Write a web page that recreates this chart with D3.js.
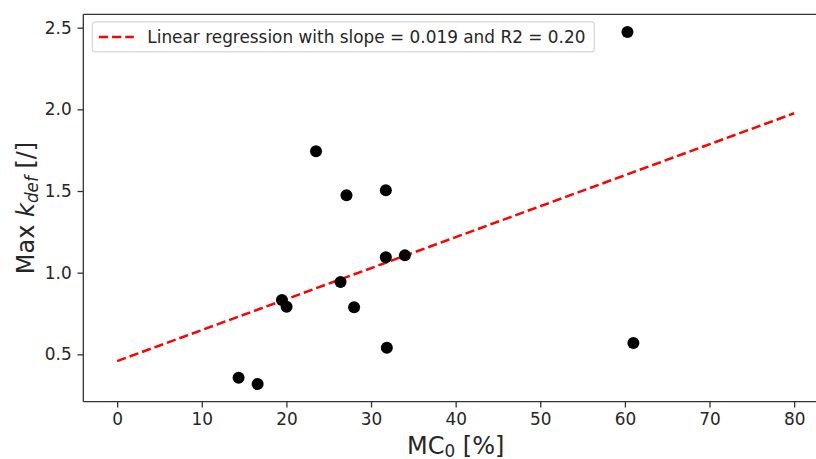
<!DOCTYPE html>
<html>
<head>
<meta charset="utf-8">
<script src="https://cdn.jsdelivr.net/npm/d3@7"></script>
<style>
  html, body { margin: 0; padding: 0; background: #fff; }
  svg { display: block; font-family: "DejaVu Sans", sans-serif; }
</style>
</head>
<body>
<svg id="chart" width="816" height="459"></svg>
<script>
const width = 816;
const height = 459;

// Initial moisture content MC0 [%] and max kdef [/]
const mc0 = [60.3, 23.5, 27.1, 31.75, 31.75, 34.0, 26.4, 19.47, 20.02, 28.0, 31.87, 61.0, 14.35, 16.6];
const kdef = [2.474, 1.743, 1.474, 1.504, 1.094, 1.106, 0.943, 0.833, 0.792, 0.788, 0.541, 0.569, 0.357, 0.318];

// Fitted regression line
const fitX = [0, 80];
const fitIntercept = 0.459;
const fitSlope = 0.01896;
const legendLabel = "Linear regression with slope = 0.019 and R2 = 0.20";

const xTicks = [0, 10, 20, 30, 40, 50, 60, 70, 80];
const yTicks = [0.5, 1.0, 1.5, 2.0, 2.5];

const margin = { top: 14.3, right: -12, bottom: 57.3, left: 83.3 };
const innerW = width - margin.left - margin.right;
const innerH = height - margin.top - margin.bottom;

const tickFont = 16.9;
const labelFont = 24;
const spineColor = "#333";

const points = mc0.map((x, i) => ({ x: x, y: kdef[i] }));
const line = fitX.map((x) => ({ x: x, y: fitIntercept + fitSlope * x }));

// matplotlib-style 5% padding
function padded(vals) {
  const [lo, hi] = d3.extent(vals);
  const p = (hi - lo) * 0.05;
  return [lo - p, hi + p];
}

const xScale = d3.scaleLinear()
  .domain(padded(mc0.concat(fitX)))
  .range([0, innerW]);

const yScale = d3.scaleLinear()
  .domain(padded(kdef))
  .range([innerH, 0]);

const svg = d3.select("#chart");
const g = svg.append("g").attr("transform", `translate(${margin.left},${margin.top})`);

// Axes
const xAxis = d3.axisBottom(xScale).tickValues(xTicks).tickFormat(d3.format("d")).tickSize(5.8).tickPadding(5.8);
const yAxis = d3.axisLeft(yScale).tickValues(yTicks).tickFormat(d3.format(".1f")).tickSize(5.8).tickPadding(5.8);

const gx = g.append("g").attr("transform", `translate(0,${innerH})`).call(xAxis);
const gy = g.append("g").call(yAxis);

[gx, gy].forEach((a) => {
  a.select(".domain").remove();
  a.selectAll("text").attr("font-size", tickFont).attr("fill", "#262626").attr("font-family", "DejaVu Sans");
  a.selectAll(".tick line").attr("stroke", spineColor).attr("stroke-width", 1.3);
});

// spines (right one falls outside the picture)
const spines = [
  [0, 0, innerW, 0],
  [0, innerH, innerW, innerH],
  [0, 0, 0, innerH],
  [innerW, 0, innerW, innerH]
];
g.selectAll("line.spine")
  .data(spines)
  .enter()
  .append("line")
  .attr("class", "spine")
  .attr("x1", (d) => d[0]).attr("y1", (d) => d[1])
  .attr("x2", (d) => d[2]).attr("y2", (d) => d[3])
  .attr("stroke", spineColor)
  .attr("stroke-width", 1.3);

// Regression line
g.append("path")
  .datum(line)
  .attr("fill", "none")
  .attr("stroke", "red")
  .attr("stroke-width", 2.5)
  .attr("stroke-dasharray", "9.25,4")
  .attr("d", d3.line().x((d) => xScale(d.x)).y((d) => yScale(d.y)));

// Points
g.selectAll("circle.pt")
  .data(points)
  .enter()
  .append("circle")
  .attr("class", "pt")
  .attr("cx", (d) => xScale(d.x))
  .attr("cy", (d) => yScale(d.y))
  .attr("r", 6)
  .attr("fill", "black");

// Legend
const legend = g.append("g").attr("transform", "translate(9,7.6)");
legend.append("rect")
  .attr("width", 502)
  .attr("height", 30)
  .attr("rx", 3)
  .attr("fill", "white")
  .attr("fill-opacity", 0.8)
  .attr("stroke", "#d6d6d6")
  .attr("stroke-width", 1.2);
legend.append("line")
  .attr("x1", 6.5).attr("x2", 41.5)
  .attr("y1", 15).attr("y2", 15)
  .attr("stroke", "red")
  .attr("stroke-width", 2.5)
  .attr("stroke-dasharray", "9.25,4");
legend.append("text")
  .attr("x", 55)
  .attr("y", 21)
  .attr("font-size", tickFont)
  .attr("fill", "#262626")
  .text(legendLabel);

// Axis labels
const xl = svg.append("text")
  .attr("x", margin.left + (xScale(0) + xScale(80)) / 2)
  .attr("y", 453.5)
  .attr("text-anchor", "middle")
  .attr("font-size", labelFont)
  .attr("fill", "#262626");
xl.append("tspan").text("MC");
xl.append("tspan").attr("font-size", labelFont * 0.7).attr("dy", 3).text("0");
xl.append("tspan").attr("dy", -3).text(" [%]");

const yl = svg.append("text")
  .attr("transform", `translate(34,${margin.top + innerH / 2}) rotate(-90)`)
  .attr("text-anchor", "middle")
  .attr("font-size", labelFont)
  .attr("fill", "#262626");
yl.append("tspan").text("Max ");
yl.append("tspan").attr("font-style", "italic").text("k");
yl.append("tspan").attr("font-style", "italic").attr("font-size", labelFont * 0.7).attr("dy", 3.5).text("def");
yl.append("tspan").attr("dy", -3.5).text(" [/]");
</script>
</body>
</html>
